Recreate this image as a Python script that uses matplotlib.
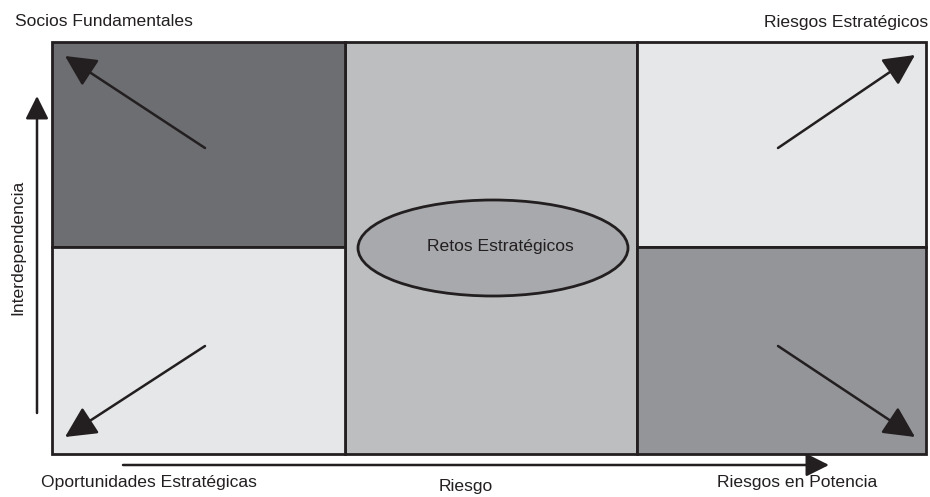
import matplotlib.pyplot as plt
from matplotlib.patches import Rectangle, Ellipse, FancyArrowPatch

plt.rcParams['font.family'] = ['Liberation Sans', 'DejaVu Sans']

# grid layout (pixel units, y grows downward)
col_edges = [52, 345, 637, 926]
row_edges = [42, 247, 454]
cell_colors = [["#6d6e71", "#bcbec0", "#e6e7e8"],
               ["#e6e7e8", "#bcbec0", "#939598"]]
corner_labels = ["Socios Fundamentales", "Riesgos Estratégicos",
                 "Oportunidades Estratégicas", "Riesgos en Potencia"]
center_label = "Retos Estratégicos"
x_label = "Riesgo"
y_label = "Interdependencia"

# quadrant arrows: (start, end)
arrows = [((205, 148), (65, 56)), ((778, 148), (915, 55)),
          ((205, 346), (65, 437)), ((778, 346), (915, 437))]

ink = "#231f20"

fig = plt.figure(figsize=(9.3, 4.97), dpi=100)
ax = fig.add_axes([0, 0, 1, 1])
ax.set_xlim(0, 930)
ax.set_ylim(497, 0)
ax.axis("off")

# middle column spans both rows
ax.add_patch(Rectangle((col_edges[1], row_edges[0]), col_edges[2] - col_edges[1],
                       row_edges[2] - row_edges[0], facecolor=cell_colors[0][1],
                       edgecolor=ink, lw=2, zorder=1))
for r in range(2):
    for c in (0, 2):
        ax.add_patch(Rectangle((col_edges[c], row_edges[r]), col_edges[c + 1] - col_edges[c],
                               row_edges[r + 1] - row_edges[r], facecolor=cell_colors[r][c],
                               edgecolor=ink, lw=2, zorder=2))

ax.add_patch(Ellipse((493, 248), 270, 96, facecolor="#a7a9ac", edgecolor=ink, lw=2, zorder=3))
ax.text(500, 246, center_label, ha="center", va="center", fontsize=12.6, color=ink, zorder=4)

for (x0, y0), (x1, y1) in arrows:
    ax.add_patch(FancyArrowPatch((x0, y0), (x1, y1), arrowstyle="-|>,head_length=12,head_width=6",
                                 mutation_scale=1.6, color=ink, lw=1.8, shrinkA=0, shrinkB=0, zorder=5))

# axis arrows
ax.add_patch(FancyArrowPatch((37, 413), (37, 96), arrowstyle="-|>,head_length=10,head_width=5",
                             mutation_scale=1.4, color=ink, lw=1.8, shrinkA=0, shrinkB=0))
ax.add_patch(FancyArrowPatch((123, 465), (829, 465), arrowstyle="-|>,head_length=10,head_width=5",
                             mutation_scale=1.4, color=ink, lw=1.8, shrinkA=0, shrinkB=0))

fs = 12.6
ax.text(15, 22, corner_labels[0], ha="left", va="center", fontsize=fs, color=ink)
ax.text(928, 23, corner_labels[1], ha="right", va="center", fontsize=fs, color=ink)
ax.text(41, 483, corner_labels[2], ha="left", va="center", fontsize=fs, color=ink)
ax.text(877, 483, corner_labels[3], ha="right", va="center", fontsize=fs, color=ink)
ax.text(466, 487, x_label, ha="center", va="center", fontsize=fs, color=ink)
ax.text(18, 247, y_label, ha="center", va="center", rotation=90, fontsize=fs, color=ink)

fig.savefig("out.png", dpi=100)
